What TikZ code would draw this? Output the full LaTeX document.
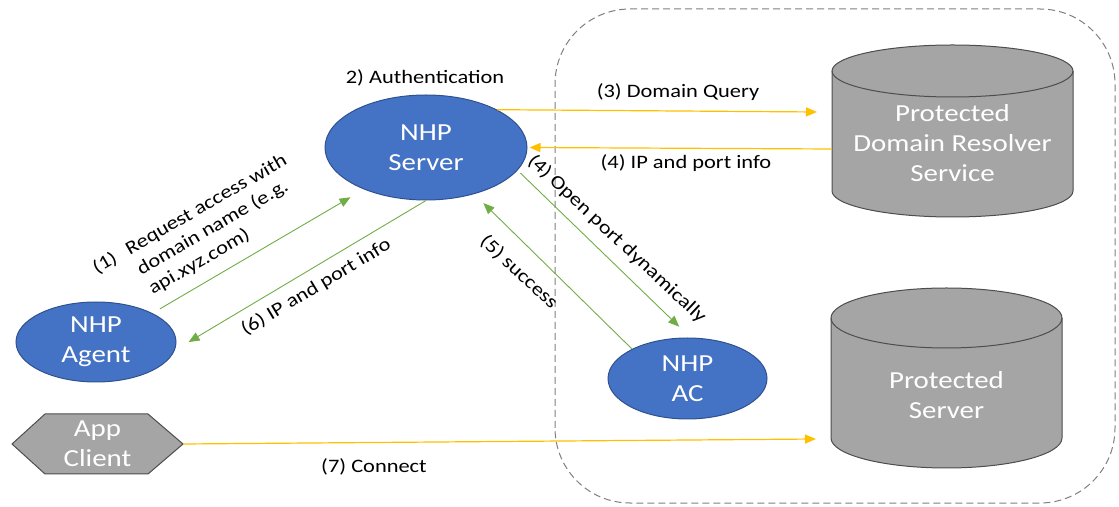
\documentclass[tikz,border=0pt]{standalone}
\usepackage{fontspec}
\setmainfont{Carlito}[FakeStretch=1.18]
\usetikzlibrary{arrows.meta,shapes.geometric}
\definecolor{nblue}{HTML}{4472C4}
\definecolor{nblued}{HTML}{2F528F}
\definecolor{cgray}{HTML}{A5A5A5}
\definecolor{cgrayd}{HTML}{4D4D4D}
\definecolor{aor}{HTML}{FFC000}
\definecolor{agr}{HTML}{70AD47}
\definecolor{dgray}{HTML}{7F7F7F}
\begin{document}
\begin{tikzpicture}[x=1pt,y=1pt,
  ell/.style={ellipse, fill=nblue, draw=nblued, line width=1pt, inner sep=0pt,
    text=white, align=center, font=\fontsize{24.5}{30}\selectfont},
  shapetext/.style={inner sep=0pt, text=white, align=center, font=\fontsize{24.5}{30}\selectfont},
  lbl/.style={font=\fontsize{19}{23}\selectfont, align=center, inner sep=1pt},
  oarr/.style={draw=aor, line width=1.2pt, -{Triangle[length=11pt,width=9pt]}},
  garr/.style={draw=agr, line width=0.9pt, -{Triangle[length=11pt,width=9pt]}},
  cylbody/.style={fill=cgray, draw=cgrayd, line width=1pt},
  cylrim/.style={draw=cgrayd, line width=1pt},
  zone/.style={draw=dgray, line width=1pt, dash pattern=on 7pt off 4pt, rounded corners=75pt}
]
\useasboundingbox (0,0) rectangle (1119,506);

% protected zone
\draw[zone] (555,3) rectangle (1115,497);

% cylinder: domain resolver
\draw[cylbody] (832,435) -- (832,315) arc[start angle=180, end angle=360, x radius=120.5pt, y radius=26pt]
  -- (1073,435) arc[start angle=0, end angle=180, x radius=120.5pt, y radius=26pt] -- cycle;
\draw[cylrim] (832,435) arc[start angle=180, end angle=360, x radius=120.5pt, y radius=26pt];
\node[shapetext] (res) at (952.5,363) {Protected\\Domain Resolver\\Service};

% cylinder: protected server
\draw[cylbody] (831,188) -- (831,68) arc[start angle=180, end angle=360, x radius=115.5pt, y radius=30pt]
  -- (1062,188) arc[start angle=0, end angle=180, x radius=115.5pt, y radius=30pt] -- cycle;
\draw[cylrim] (831,188) arc[start angle=180, end angle=360, x radius=115.5pt, y radius=30pt];
\node[shapetext] (srv) at (946.5,111) {Protected\\Server};

% app client hexagon
\draw[cylbody] (12,62) -- (45,92) -- (148,92) -- (183,62) -- (148,32) -- (45,32) -- cycle;
\node[shapetext, minimum width=171pt, minimum height=60pt] (app) at (97.5,62) {App\\Client};

% ellipses
\node[ell, minimum width=202pt, minimum height=105pt] (server) at (426,358.5) {NHP\\Server};
\node[ell, minimum width=160pt, minimum height=80pt] (agent) at (96,164) {NHP\\Agent};
\node[ell, minimum width=159pt, minimum height=81pt] (ac) at (687.5,127.5) {NHP\\AC};

% free arrow ends
\coordinate (q3) at (817,394);
\coordinate (q4) at (832,357);
\coordinate (q7) at (816,67);

% connectors
\draw[oarr] (server.28.5) -- (q3);
\draw[oarr, shorten >=2pt] (q4) -- (server.east);
\draw[oarr] (app.east) -- (q7);
\draw[garr, shorten <=8.5pt, shorten >=15.5pt] (agent.27.3) -- (server.214.1);
\draw[garr, shorten >=16pt] (server.south) -- (agent.-6);
\draw[garr, shorten <=4pt, shorten >=15.6pt] (server.-14.6) -- (ac.86);
\draw[garr, shorten >=12.8pt] (ac.152.8) -- (server.-44.8);

% labels
\node[lbl] (lauth) at (425,428) {2) Authentication};
\node[lbl] (l3) at (678,414) {(3) Domain Query};
\node[lbl] (l4) at (686,343) {(4) IP and port info};
\node[lbl] (l7) at (374,39) {(7) Connect};
\node[lbl, rotate=31] (l6) at (316,219) {(6) IP and port info};
\node[lbl, rotate=30] (l1n) at (105,243) {(1)};
\node[lbl, rotate=30, align=left] (l1) at (218,281) {Request access with\\domain name (e.g.\\api.xyz.com)};
\node[lbl, rotate=-43] (l4b) at (617,267) {(4) Open port dynamically};
\node[lbl, rotate=-43] (l5) at (519,234) {(5) success};
\end{tikzpicture}
\end{document}
